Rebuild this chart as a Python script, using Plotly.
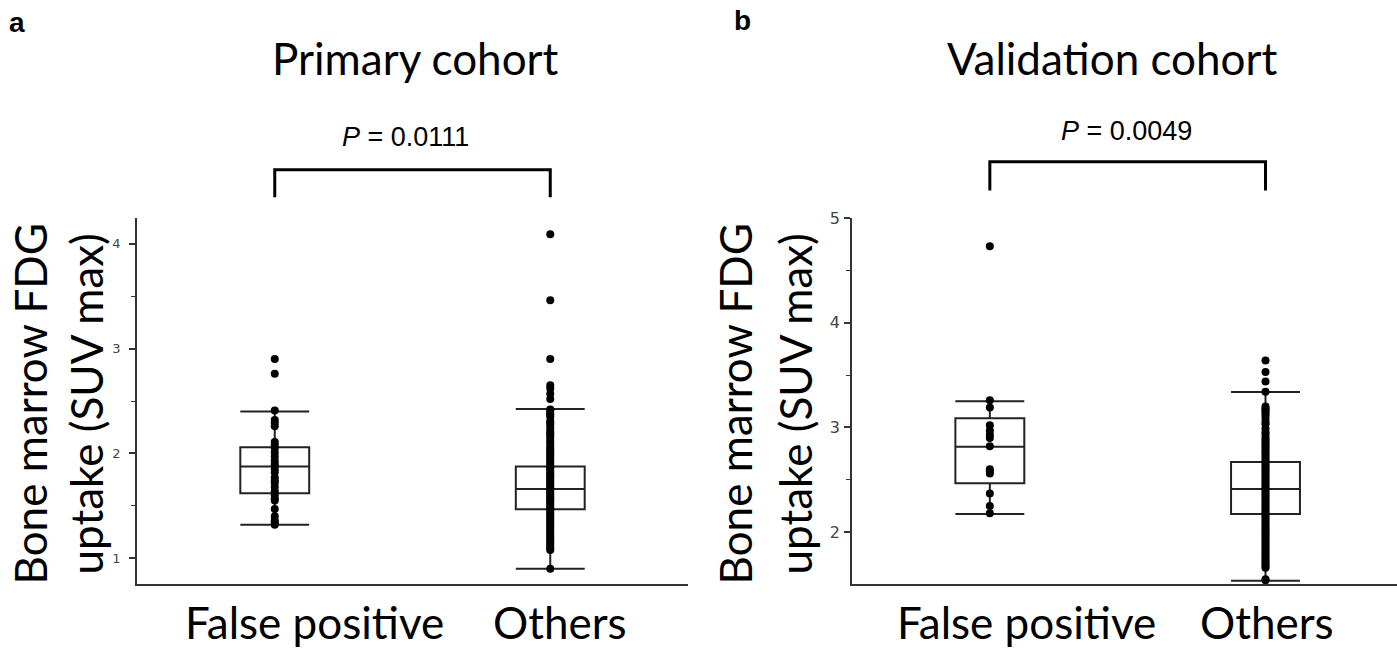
import plotly.graph_objects as go

W, H = 1397, 652

categories = ["False positive", "Others"]

# Primary cohort individual values (SUV max)
primary_fp = [2.90, 2.76, 2.41, 2.32, 2.29, 2.26, 2.11, 2.08, 2.05, 2.01, 1.97, 1.93,
              1.90, 1.88, 1.85, 1.82, 1.77, 1.74, 1.72, 1.68, 1.64, 1.60, 1.57, 1.55,
              1.47, 1.40, 1.36, 1.34, 1.32]
primary_others = [4.09, 3.46, 2.90, 2.65, 2.62, 2.57, 2.52,
                  2.42, 2.41, 2.38, 2.37, 2.35, 2.31, 2.29, 2.27, 2.24, 2.21, 2.19,
                  2.17, 2.15, 2.12, 2.10, 2.07, 2.05, 2.03, 2.01, 1.99, 1.97, 1.95,
                  1.93, 1.91, 1.89, 1.87, 1.86, 1.84, 1.82, 1.80, 1.79, 1.77, 1.75,
                  1.73, 1.71, 1.70, 1.68, 1.66, 1.65, 1.63, 1.61, 1.59, 1.57, 1.56,
                  1.54, 1.52, 1.50, 1.48, 1.47, 1.45, 1.43, 1.41, 1.39, 1.37, 1.35,
                  1.33, 1.31, 1.29, 1.27, 1.25, 1.23, 1.21, 1.19, 1.17, 1.15, 1.13,
                  1.11, 1.09, 1.08, 0.90]
# Validation cohort individual values (SUV max)
valid_fp = [4.73, 3.26, 3.19, 3.02, 2.97, 2.93, 2.90, 2.82, 2.60, 2.58, 2.56,
            2.37, 2.25, 2.18]
valid_others = [3.64, 3.53, 3.44, 3.34,
                3.20, 3.18, 3.17, 3.15, 3.13, 3.11, 3.08, 3.05, 3.03, 2.99, 2.96,
                2.94, 2.91, 2.89, 2.87, 2.85, 2.83, 2.81, 2.79, 2.77, 2.75, 2.73,
                2.71, 2.69, 2.67, 2.65, 2.63, 2.61, 2.59, 2.57, 2.55, 2.53, 2.51,
                2.49, 2.47, 2.45, 2.43, 2.41, 2.39, 2.37, 2.35, 2.33, 2.31, 2.29,
                2.27, 2.25, 2.23, 2.21, 2.19, 2.17, 2.15, 2.13, 2.11, 2.09, 2.07,
                2.05, 2.03, 2.01, 1.99, 1.97, 1.95, 1.93, 1.91, 1.89, 1.87, 1.85,
                1.83, 1.81, 1.79, 1.77, 1.75, 1.73, 1.71, 1.69, 1.67, 1.66, 1.55,
                1.54]

# Box statistics
primary_q1 = [1.62, 1.467]
primary_median = [1.875, 1.661]
primary_q3 = [2.06, 1.875]
primary_lower = [1.32, 0.90]
primary_upper = [2.40, 2.423]
valid_q1 = [2.467, 2.172]
valid_median = [2.815, 2.411]
valid_q3 = [3.088, 2.671]
valid_lower = [2.172, 1.536]
valid_upper = [3.251, 3.338]

primary_yticks = [1, 2, 3, 4]
primary_yminor = [1.5, 2.5, 3.5]
valid_yticks = [2, 3, 4, 5]
valid_yminor = [2.5, 3.5, 4.5]

titles = ["Primary cohort", "Validation cohort"]
pvalues = ["0.0111", "0.0049"]
panel_labels = ["a", "b"]
ytitle_lines = ["Bone marrow FDG", "uptake (SUV max)"]

BIG = "Lato"
BIGSIZE = 44


def px(x):
    return x / W


def py(y):
    return 1 - y / H


fig = go.Figure()

panels = [
    ("x", "y", primary_fp, primary_others, primary_q1, primary_median, primary_q3,
     primary_lower, primary_upper),
    ("x2", "y2", valid_fp, valid_others, valid_q1, valid_median, valid_q3,
     valid_lower, valid_upper),
]
for xa, ya, fp, oth, q1, med, q3, lo, up in panels:
    fig.add_trace(go.Box(
        x=categories, q1=q1, median=med, q3=q3, lowerfence=lo, upperfence=up,
        fillcolor="white", line=dict(color="#222222", width=2), width=0.25,
        whiskerwidth=1, boxpoints=False, xaxis=xa, yaxis=ya, showlegend=False,
        hoverinfo="skip"))
    fig.add_trace(go.Scatter(
        x=[categories[0]] * len(fp), y=fp, mode="markers",
        marker=dict(color="black", size=8), xaxis=xa, yaxis=ya, showlegend=False))
    fig.add_trace(go.Scatter(
        x=[categories[1]] * len(oth), y=oth, mode="markers",
        marker=dict(color="black", size=8), xaxis=xa, yaxis=ya, showlegend=False))

ydom = [py(583), py(212)]
xcommon = dict(type="category", categoryorder="array", categoryarray=categories,
               showline=True, linecolor="#333333", linewidth=1.5, ticks="",
               showticklabels=False, showgrid=False, zeroline=False)
ycommon = dict(showline=True, linecolor="#333333", linewidth=1.5, ticks="outside",
               ticklen=6, tickwidth=1.5, tickcolor="#333333", showgrid=False,
               zeroline=False)

fig.update_layout(
    width=W, height=H, margin=dict(l=0, r=0, t=0, b=0),
    paper_bgcolor="white", plot_bgcolor="white", showlegend=False,
    xaxis=dict(domain=[px(137), px(688)], range=[-0.5, 1.5], anchor="y", **xcommon),
    xaxis2=dict(domain=[px(852), 1.0], range=[-0.5, 1.477], anchor="y2", **xcommon),
    yaxis=dict(domain=ydom, range=[0.755, 4.245], anchor="x", tickvals=primary_yticks,
               tickfont=dict(family="DejaVu Sans", size=13, color="#444444"),
               ticklabelstandoff=6,
               minor=dict(tickvals=primary_yminor, ticks="outside", ticklen=4,
                          tickwidth=1, tickcolor="#333333", showgrid=False),
               **ycommon),
    yaxis2=dict(domain=ydom, range=[1.505, 5.0], anchor="x2", tickvals=valid_yticks,
                tickfont=dict(family="DejaVu Sans", size=16, color="#444444"),
                ticklabelstandoff=1,
                minor=dict(tickvals=valid_yminor, ticks="outside", ticklen=4,
                           tickwidth=1, tickcolor="#333333", showgrid=False),
                **ycommon),
)

ann = []


def add_text(text, x, y, family, size, angle=0):
    ann.append(dict(text=text, x=px(x), y=py(y), xref="paper", yref="paper",
                    xanchor="center", yanchor="middle", textangle=angle,
                    showarrow=False, font=dict(family=family, size=size, color="black")))


# panel labels
for lab, x, y in zip(panel_labels, [17, 742], [14, 12]):
    add_text(f"<b>{lab}</b>", x, y, "Liberation Sans", 28)
# titles
for t, x in zip(titles, [415, 1112]):
    add_text(t, x, 50, BIG, BIGSIZE)
# p values
for p, x, y in zip(pvalues, [405, 1126], [130, 124]):
    add_text(f"<i>P</i> = {p}", x, y, "Liberation Sans", 27)
# y titles
for xs in ([30, 86], [735, 795]):
    for line, x in zip(ytitle_lines, xs):
        add_text(line, x, 401, BIG, BIGSIZE, angle=-90)
# category labels
for xs in ([314, 560], [1026, 1267]):
    for c, x in zip(categories, xs):
        add_text(c, x, 622, BIG, BIGSIZE)
fig.update_layout(annotations=ann)

# significance brackets
shapes = []
for xr, ytop, ybot in (("x", 163, 191), ("x2", 155, 184)):
    shapes.append(dict(type="path", xref=xr, yref="paper",
                       path=f"M 0,{py(ybot)} L 0,{py(ytop)} L 1,{py(ytop)} L 1,{py(ybot)}",
                       line=dict(color="black", width=3)))
fig.update_layout(shapes=shapes)

fig.write_html("out.html")
